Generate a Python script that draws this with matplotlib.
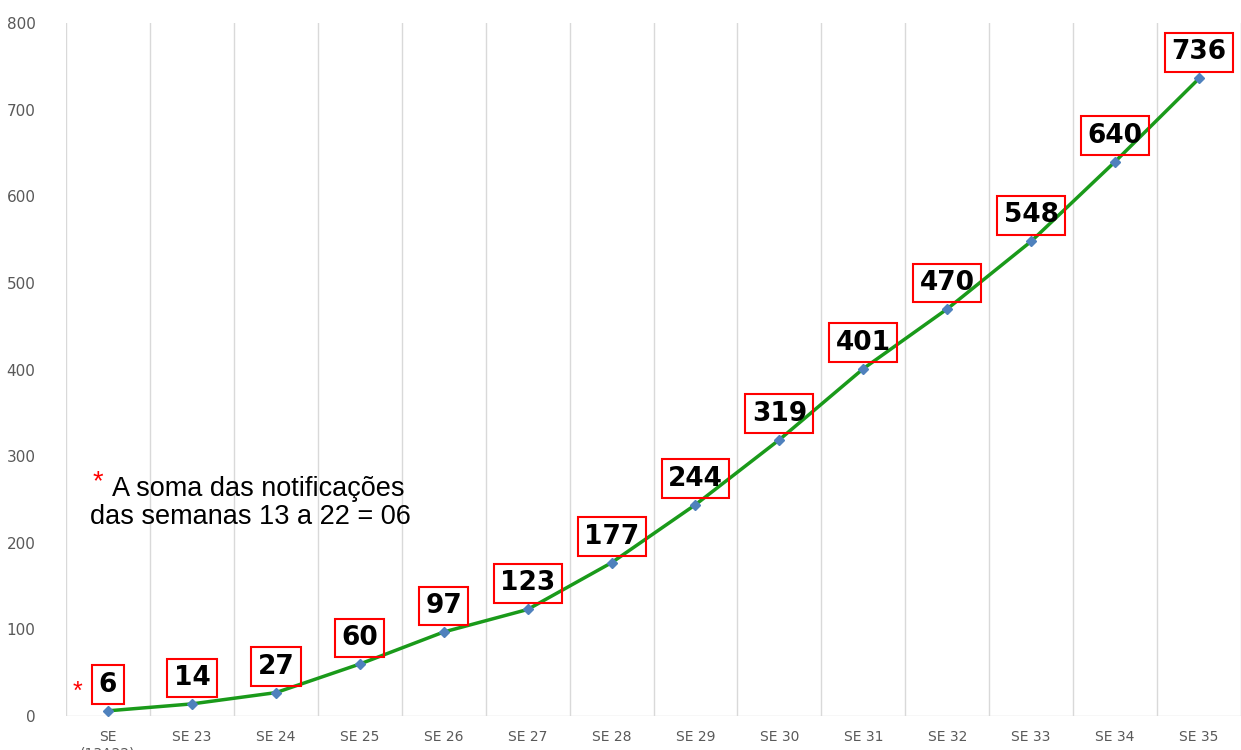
import matplotlib.pyplot as plt

# semanas epidemiologicas e casos acumulados
semanas = ["SE\n(13A22)", "SE 23", "SE 24", "SE 25", "SE 26", "SE 27", "SE 28",
           "SE 29", "SE 30", "SE 31", "SE 32", "SE 33", "SE 34", "SE 35"]
casos = [6, 14, 27, 60, 97, 123, 177, 244, 319, 401, 470, 548, 640, 736]
yticks = [0, 100, 200, 300, 400, 500, 600, 700, 800]

fig = plt.figure(figsize=(12.41, 7.5), dpi=100)
ax = fig.add_axes([0.0532, 0.0453, 0.9468, 0.9240])

x = list(range(len(semanas)))
ax.plot(x, casos, color="#1a9a1a", lw=2.5, marker="D", markersize=5,
        markerfacecolor="#4f81bd", markeredgecolor="#4f81bd", zorder=3)

# rotulos com caixa vermelha
for xi, v in zip(x, casos):
    ax.annotate(str(v), (xi, v), xytext=(0, 13), textcoords="offset pixels",
                ha="center", va="bottom", fontsize=19, fontweight="bold",
                family="DejaVu Sans", color="black",
                bbox=dict(boxstyle="square,pad=0.24", fc="none", ec="red", lw=1.5),
                zorder=4)

ax.set_xlim(-0.5, len(semanas) - 0.5)
ax.set_ylim(0, 800)
ax.set_yticks(yticks)
ax.set_xticks(x)
ax.set_xticklabels(semanas)
for s in ax.spines.values():
    s.set_visible(False)
ax.axhline(0, color="#d9d9d9", lw=1, zorder=1)
for b in range(len(semanas) + 1):
    ax.axvline(b - 0.5, color="#d9d9d9", lw=1, zorder=1)
ax.tick_params(axis="both", length=0, colors="#595959", labelsize=10)
ax.tick_params(axis="y", pad=22, labelsize=11)
ax.tick_params(axis="x", pad=10)

# nota
ax.text(0.05, 262, "A soma das notificações", ha="left", va="center",
        fontsize=19.5, family="Liberation Sans")
ax.text(-0.21, 230, "das semanas 13 a 22 = 06", ha="left", va="center",
        fontsize=19.5, family="Liberation Sans")
ax.text(-0.12, 270, "*", color="red", fontsize=19.5, ha="center", va="center",
        family="Liberation Sans")
ax.text(-0.36, 28, "*", color="red", fontsize=18, ha="center", va="center",
        family="Liberation Sans")

fig.savefig("out.png", dpi=100)
